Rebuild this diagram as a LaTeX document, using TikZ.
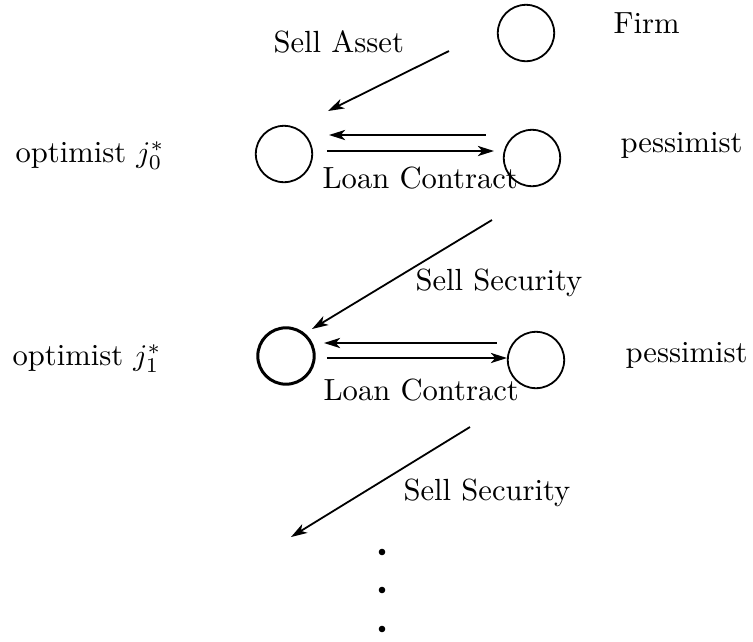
\documentclass[tikz,border=0pt]{standalone}
\usetikzlibrary{arrows.meta}
\begin{document}
\begin{tikzpicture}[x=0.3333pt,y=-0.3333pt,
  font=\fontsize{10.2}{12.2}\selectfont,
  agent/.style={draw,circle,line width=0.6pt,minimum size=18.8pt,inner sep=0pt},
  lbl/.style={anchor=base west,inner sep=0pt},
  flow/.style={line width=0.6pt,-{Stealth[length=5.4pt,width=3.4pt,inset=1.5pt]}},
  dotmark/.style={circle,fill=black,inner sep=0pt,minimum size=2.2pt}]
\useasboundingbox (0,0) rectangle (753,641);
% agents
\node[agent] (firm) at (526,33) {};
\node[agent] (opt0) at (284,154) {};
\node[agent] (pes0) at (532,158) {};
\node[agent,line width=1pt] (opt1) at (286,356) {};
\node[agent] (pes1) at (536,360) {};
% labels
\node[lbl] (tfirm) at (613,33) {Firm};
\node[lbl] (topt0) at (15,162) {optimist $j_0^*$};
\node[lbl] (tpes0) at (620,152) {pessimist};
\node[lbl] (topt1) at (12,365) {optimist $j_1^*$};
\node[lbl] (tpes1) at (625,362) {pessimist};
\node[lbl] (tsa) at (273,52) {Sell Asset};
\node[lbl] (tlc0) at (322,188) {Loan Contract};
\node[lbl] (tss1) at (415,290) {Sell Security};
\node[lbl] (tlc1) at (323,400) {Loan Contract};
\node[lbl] (tss2) at (403,500) {Sell Security};
% arrow end points
\coordinate (a1s) at (449,51);  \coordinate (a1e) at (328,111);
\coordinate (l0as) at (486,135); \coordinate (l0ae) at (329,135);
\coordinate (l0bs) at (327,151); \coordinate (l0be) at (494,151);
\coordinate (s1s) at (492,220); \coordinate (s1e) at (312,329);
\coordinate (l1as) at (497,343); \coordinate (l1ae) at (324,343);
\coordinate (l1bs) at (327,358); \coordinate (l1be) at (507,358);
\coordinate (s2s) at (470,427); \coordinate (s2e) at (291,537);
\draw[flow] (a1s) -- (a1e);
\draw[flow] (l0as) -- (l0ae);
\draw[flow] (l0bs) -- (l0be);
\draw[flow] (s1s) -- (s1e);
\draw[flow] (l1as) -- (l1ae);
\draw[flow] (l1bs) -- (l1be);
\draw[flow] (s2s) -- (s2e);
% dots
\node[dotmark] (d1) at (382,552) {};
\node[dotmark] (d2) at (382,590) {};
\node[dotmark] (d3) at (382,629) {};
\end{tikzpicture}
\end{document}
